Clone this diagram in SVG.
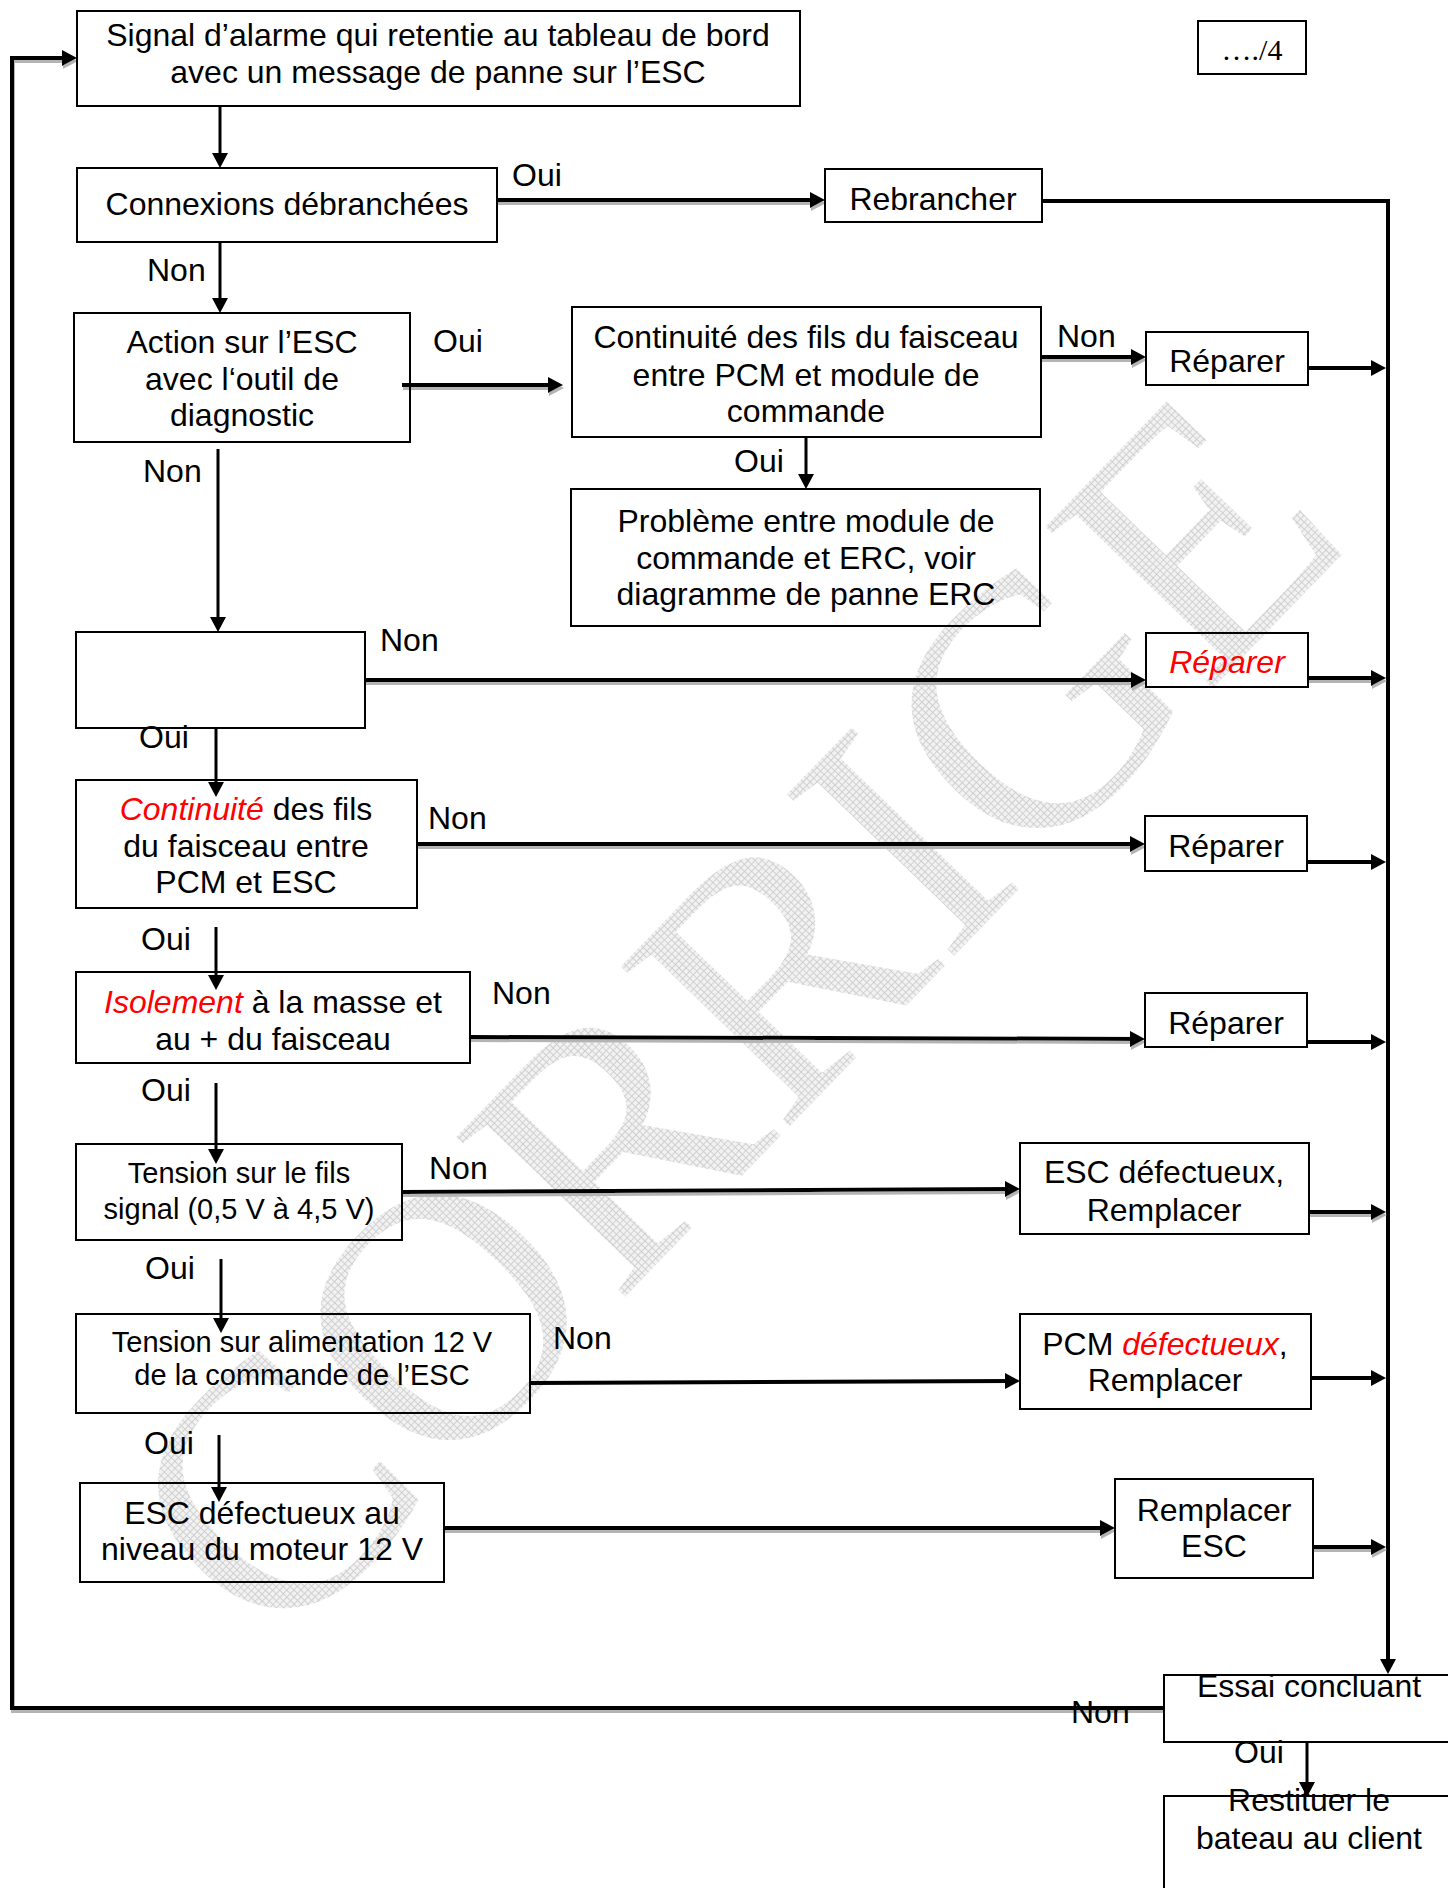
<svg xmlns="http://www.w3.org/2000/svg" width="1448" height="1888" viewBox="0 0 1448 1888">
<defs>
<style>
text{font-family:"Liberation Sans",Arial,sans-serif;font-size:32px;fill:#000}
.m{text-anchor:middle}
.s{font-size:29px}
.r{fill:#f00;font-style:italic}
.b{fill:none;stroke:#000;stroke-width:2}
.c{fill:none;stroke:#000;stroke-width:4}
.v{fill:none;stroke:#000;stroke-width:3}
.sh{filter:url(#shd)}
.wm{font-family:"Liberation Serif","Times New Roman",serif;font-size:355px;fill:url(#grid)}
</style>
<pattern id="grid" width="5" height="5" patternUnits="userSpaceOnUse">
<rect width="5" height="5" fill="#f2f2f2"/>
<path d="M0,0.5H5M0.5,0V5" stroke="#d0d0d0" stroke-width="1"/>
</pattern>
<filter id="shd" filterUnits="userSpaceOnUse" x="0" y="0" width="1448" height="1888">
<feDropShadow dx="1" dy="3" stdDeviation="0.6" flood-color="#b4b4b4" flood-opacity="1"/>
</filter>
<marker id="a" viewBox="0 0 15 16" refX="9" refY="8" markerWidth="15" markerHeight="16" markerUnits="userSpaceOnUse" orient="auto">
<path d="M0,0L15,8L0,16z" fill="#000"/>
</marker>
</defs>
<rect width="1448" height="1888" fill="#fff"/>

<g id="watermark">
<text class="wm" text-anchor="middle" transform="translate(815,1100) rotate(-46)">CORRIGE</text>
</g>

<g id="connectors">
<path class="v" marker-end="url(#a)" d="M220,106V162"/>
<path class="c sh" marker-end="url(#a)" d="M497,200H819"/>
<path class="c" marker-end="url(#a)" d="M1042,201H1388V1668"/>
<path class="v" marker-end="url(#a)" d="M220,242V307"/>
<path class="c sh" marker-end="url(#a)" d="M402,385H557"/>
<path class="c sh" marker-end="url(#a)" d="M1041,357H1140"/>
<path class="c" marker-end="url(#a)" d="M1308,368H1380"/>
<path class="v" marker-end="url(#a)" d="M806,437V483"/>
<path class="v" marker-end="url(#a)" d="M218,449V626"/>
<path class="c sh" marker-end="url(#a)" d="M365,680H1140"/>
<path class="c sh" marker-end="url(#a)" d="M1308,678H1380"/>
<path class="v" marker-end="url(#a)" d="M216,728V791"/>
<path class="c sh" marker-end="url(#a)" d="M417,844H1139"/>
<path class="c" marker-end="url(#a)" d="M1307,862H1380"/>
<path class="v" marker-end="url(#a)" d="M216,927V984"/>
<path class="c sh" marker-end="url(#a)" d="M470,1037L1139,1039"/>
<path class="c" marker-end="url(#a)" d="M1307,1042H1380"/>
<path class="v" marker-end="url(#a)" d="M216,1083V1158"/>
<path class="c sh" marker-end="url(#a)" d="M402,1192L1014,1189"/>
<path class="c sh" marker-end="url(#a)" d="M1309,1212H1380"/>
<path class="v" marker-end="url(#a)" d="M221,1259V1327"/>
<path class="c" marker-end="url(#a)" d="M530,1383L1014,1381"/>
<path class="c" marker-end="url(#a)" d="M1311,1378H1380"/>
<path class="v" marker-end="url(#a)" d="M219,1435V1496"/>
<path class="c sh" marker-end="url(#a)" d="M444,1528H1109"/>
<path class="c sh" marker-end="url(#a)" d="M1313,1547H1380"/>
<path class="c sh" marker-end="url(#a)" d="M1164,1708H12V58H71"/>
<path class="v" marker-end="url(#a)" d="M1307,1742V1791"/>
</g>

<g id="labels">
<text x="512" y="186">Oui</text>
<text x="147" y="281">Non</text>
<text x="433" y="352">Oui</text>
<text x="1057" y="347">Non</text>
<text x="734" y="472">Oui</text>
<text x="143" y="482">Non</text>
<text x="380" y="651">Non</text>
<text x="139" y="748">Oui</text>
<text x="428" y="829">Non</text>
<text x="141" y="950">Oui</text>
<text x="492" y="1004">Non</text>
<text x="141" y="1101">Oui</text>
<text x="429" y="1179">Non</text>
<text x="145" y="1279">Oui</text>
<text x="553" y="1349">Non</text>
<text x="144" y="1454">Oui</text>
<text x="1071" y="1723">Non</text>
<text x="1234" y="1763">Oui</text>
</g>

<g id="n-page">
<rect class="b" x="1198" y="21" width="108" height="53"/>
<text class="m" x="1252" y="60" style="font-family:'Liberation Serif','Times New Roman',serif;font-size:30px">…./4</text>
</g>

<g id="n-signal">
<rect class="b" x="77" y="11" width="723" height="95"/>
<text class="m" x="438" y="46">Signal d’alarme qui retentie au tableau de bord</text>
<text class="m" x="438" y="83">avec un message de panne sur l’ESC</text>
</g>

<g id="n-connexions">
<rect class="b" x="77" y="168" width="420" height="74"/>
<text class="m" x="287" y="215">Connexions débranchées</text>
</g>

<g id="n-rebrancher">
<rect class="b" x="825" y="169" width="217" height="53"/>
<text class="m" x="933" y="210">Rebrancher</text>
</g>

<g id="n-action">
<rect class="b" x="74" y="313" width="336" height="129"/>
<text class="m" x="242" y="353">Action sur l’ESC</text>
<text class="m" x="242" y="390">avec l‘outil de</text>
<text class="m" x="242" y="426">diagnostic</text>
</g>

<g id="n-continuite-cmd">
<rect class="b" x="572" y="307" width="469" height="130"/>
<text class="m" x="806" y="348">Continuité des fils du faisceau</text>
<text class="m" x="806" y="386">entre PCM et module de</text>
<text class="m" x="806" y="422">commande</text>
</g>

<g id="n-reparer1">
<rect class="b" x="1146" y="332" width="162" height="53"/>
<text class="m" x="1227" y="372">Réparer</text>
</g>

<g id="n-probleme">
<rect class="b" x="571" y="489" width="469" height="137"/>
<text class="m" x="806" y="532">Problème entre module de</text>
<text class="m" x="806" y="569">commande et ERC, voir</text>
<text class="m" x="806" y="605">diagramme de panne ERC</text>
</g>

<g id="n-empty">
<rect class="b" x="76" y="632" width="289" height="96"/>
</g>

<g id="n-reparer2">
<rect class="b" x="1146" y="633" width="162" height="54"/>
<text class="m r" x="1227" y="673">Réparer</text>
</g>

<g id="n-continuite-esc">
<rect class="b" x="76" y="780" width="341" height="128"/>
<text class="m" x="246" y="820"><tspan class="r">Continuité</tspan> des fils</text>
<text class="m" x="246" y="857">du faisceau entre</text>
<text class="m" x="246" y="893">PCM et ESC</text>
</g>

<g id="n-reparer3">
<rect class="b" x="1145" y="816" width="162" height="55"/>
<text class="m" x="1226" y="857">Réparer</text>
</g>

<g id="n-isolement">
<rect class="b" x="76" y="972" width="394" height="91"/>
<text class="m" x="273" y="1013"><tspan class="r">Isolement</tspan> à la masse et</text>
<text class="m" x="273" y="1050">au + du faisceau</text>
</g>

<g id="n-reparer4">
<rect class="b" x="1145" y="993" width="162" height="54"/>
<text class="m" x="1226" y="1034">Réparer</text>
</g>

<g id="n-tension-fils">
<rect class="b" x="76" y="1144" width="326" height="96"/>
<text class="m s" x="239" y="1183">Tension sur le fils</text>
<text class="m s" x="239" y="1219">signal (0,5 V à 4,5 V)</text>
</g>

<g id="n-esc-def">
<rect class="b" x="1020" y="1143" width="289" height="91"/>
<text class="m" x="1164" y="1183">ESC défectueux,</text>
<text class="m" x="1164" y="1221">Remplacer</text>
</g>

<g id="n-tension-alim">
<rect class="b" x="76" y="1314" width="454" height="99"/>
<text class="m s" x="302" y="1352">Tension sur alimentation 12 V</text>
<text class="m s" x="302" y="1385">de la commande de l’ESC</text>
</g>

<g id="n-pcm">
<rect class="b" x="1020" y="1314" width="291" height="95"/>
<text class="m" x="1165" y="1355">PCM <tspan class="r">défectueux</tspan>,</text>
<text class="m" x="1165" y="1391">Remplacer</text>
</g>

<g id="n-esc-moteur">
<rect class="b" x="80" y="1483" width="364" height="99"/>
<text class="m" x="262" y="1524">ESC défectueux au</text>
<text class="m" x="262" y="1560">niveau du moteur 12 V</text>
</g>

<g id="n-remplacer-esc">
<rect class="b" x="1115" y="1479" width="198" height="99"/>
<text class="m" x="1214" y="1521">Remplacer</text>
<text class="m" x="1214" y="1557">ESC</text>
</g>

<g id="n-essai">
<rect class="b" x="1164" y="1675" width="300" height="67"/>
<text class="m" x="1309" y="1697">Essai concluant</text>
</g>

<g id="n-restituer">
<rect class="b" x="1164" y="1796" width="300" height="110"/>
<text class="m" x="1309" y="1811">Restituer le</text>
<text class="m" x="1309" y="1849">bateau au client</text>
</g>
</svg>
